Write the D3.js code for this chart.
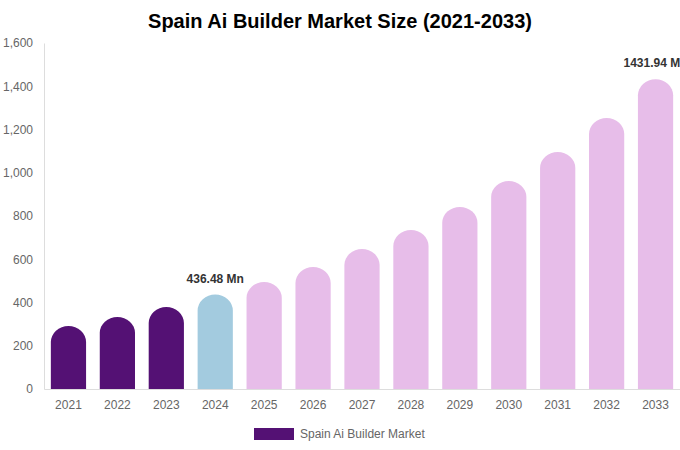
<!DOCTYPE html>
<html>
<head>
<meta charset="utf-8">
<script src="https://cdn.jsdelivr.net/npm/d3@7"></script>
<style>
  body { margin: 0; background: #fff; }
  svg { font-family: "Liberation Sans", Arial, sans-serif; }
</style>
</head>
<body>
<svg width="680" height="450"></svg>
<script>
const years = ["2021", "2022", "2023", "2024", "2025", "2026", "2027", "2028", "2029", "2030", "2031", "2032", "2033"];
const values = [291, 333, 379, 436.48, 495, 564, 647, 735, 842, 962, 1096, 1253, 1431.94];
const yTicks = [0, 200, 400, 600, 800, 1000, 1200, 1400, 1600];
const labelled = { "2024": "436.48 Mn", "2033": "1431.94 Mn" };

const colorHist = "#541174";
const colorBase = "#a3cbdf";
const colorFore = "#e7bde9";

const svg = d3.select("svg");
const width = 680, height = 450;
const margin = { top: 43, right: 0, bottom: 61, left: 44 };

const x = d3.scaleBand()
  .domain(years)
  .range([margin.left, width - margin.right])
  .paddingInner(0.28)
  .paddingOuter(0.14);

const y = d3.scaleLinear()
  .domain([0, 1600])
  .range([height - margin.bottom, margin.top]);

// title
svg.append("text")
  .attr("x", 340)
  .attr("y", 28)
  .attr("text-anchor", "middle")
  .attr("font-size", 20)
  .attr("font-weight", "bold")
  .attr("fill", "#000")
  .text("Spain Ai Builder Market Size (2021-2033)");

// y axis
const yAxis = svg.append("g")
  .attr("transform", `translate(${margin.left},0)`)
  .call(d3.axisLeft(y).tickValues(yTicks).tickSize(0).tickPadding(11).tickFormat(d3.format(",")));
yAxis.select(".domain").attr("stroke", "#ddd");
yAxis.selectAll("text").attr("font-size", 12).attr("fill", "#666");

// x axis
const xAxis = svg.append("g")
  .attr("transform", `translate(0,${y(0)})`)
  .call(d3.axisBottom(x).tickSize(0).tickPadding(11));
xAxis.select(".domain").attr("stroke", "#ddd");
xAxis.selectAll("text").attr("font-size", 12).attr("fill", "#666");

function barColor(yr) {
  if (+yr < 2024) return colorHist;
  if (+yr === 2024) return colorBase;
  return colorFore;
}

function barPath(d, i) {
  const x0 = x(years[i]);
  const w = x.bandwidth();
  const r = w / 2;
  const ry = 16;
  const top = y(d);
  const bottom = y(0);
  return `M${x0},${bottom} L${x0},${top + ry} A${r},${ry} 0 0 1 ${x0 + w},${top + ry} L${x0 + w},${bottom} Z`;
}

svg.append("g")
  .selectAll("path.bar")
  .data(values)
  .join("path")
  .attr("class", "bar")
  .attr("d", barPath)
  .attr("fill", (d, i) => barColor(years[i]));

// value labels
svg.append("g")
  .selectAll("text")
  .data(years.filter(yr => labelled[yr]))
  .join("text")
  .attr("x", yr => x(yr) + x.bandwidth() / 2)
  .attr("y", yr => y(values[years.indexOf(yr)]) - 12)
  .attr("text-anchor", "middle")
  .attr("font-size", 12)
  .attr("font-weight", "bold")
  .attr("fill", "#333")
  .text(yr => labelled[yr]);

// legend
svg.append("rect")
  .attr("x", 254)
  .attr("y", 428)
  .attr("width", 40)
  .attr("height", 12)
  .attr("fill", colorHist);
svg.append("text")
  .attr("x", 300)
  .attr("y", 438)
  .attr("font-size", 12)
  .attr("fill", "#666")
  .text("Spain Ai Builder Market");
</script>
</body>
</html>
